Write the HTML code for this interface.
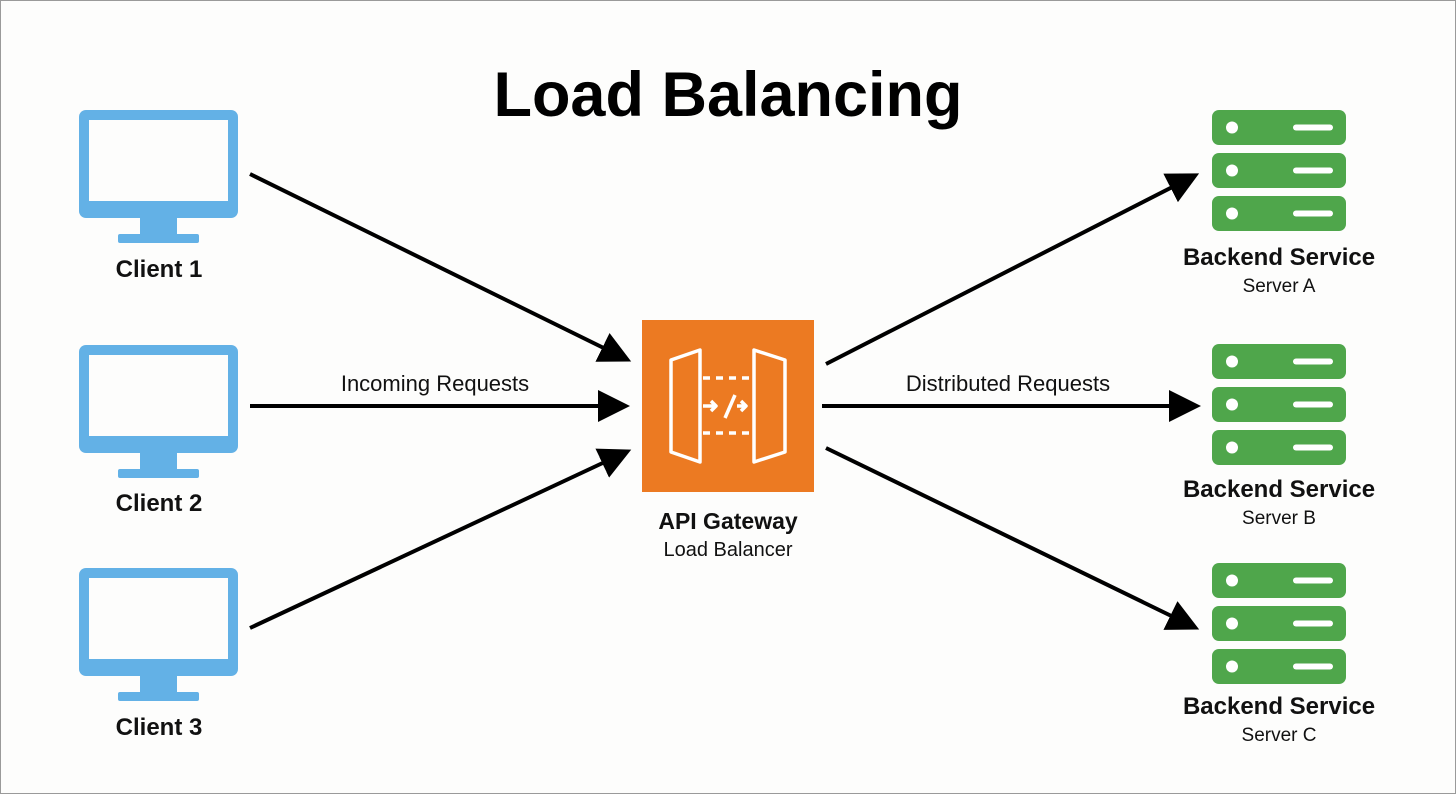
<!DOCTYPE html>
<html><head><meta charset="utf-8"><style>
html,body{margin:0;padding:0;background:#fdfdfc;}
svg{display:block}
text{font-family:"Liberation Sans",sans-serif;}
</style></head><body>
<svg width="1456" height="794" viewBox="0 0 1456 794" xmlns="http://www.w3.org/2000/svg">
<defs>
<marker id="ah" markerWidth="8" markerHeight="8" refX="6" refY="4" orient="auto" markerUnits="strokeWidth">
<path d="M0,0 L8,4 L0,8 Z" fill="#000"/>
</marker>
<g id="mon">
<rect x="79" y="110" width="159" height="108" rx="7" fill="#63b1e6"/>
<rect x="89" y="120" width="139" height="81" fill="#fdfdfc"/>
<rect x="140" y="216" width="37" height="20" fill="#63b1e6"/>
<rect x="118" y="234" width="81" height="9" rx="2" fill="#63b1e6"/>
</g>
<g id="srv">
<rect x="1212" y="0" width="134" height="35" rx="7" fill="#4fa64b"/>
<circle cx="1232" cy="17.5" r="6" fill="#fff"/>
<rect x="1293" y="14.5" width="40" height="6" rx="3" fill="#fff"/>
</g>
</defs>
<rect x="0.5" y="0.5" width="1455" height="793" fill="none" stroke="#9a9a9a"/>
<text x="728" y="116" text-anchor="middle" font-size="63" font-weight="bold" fill="#000">Load Balancing</text>

<use href="#mon"/>
<use href="#mon" y="235"/>
<use href="#mon" y="458"/>
<g font-size="24" font-weight="bold" fill="#111" text-anchor="middle">
<text x="159" y="277">Client 1</text>
<text x="159" y="511">Client 2</text>
<text x="159" y="735">Client 3</text>
</g>

<g stroke="#000" stroke-width="4" fill="none" marker-end="url(#ah)">
<line x1="250" y1="174" x2="624" y2="358"/>
<line x1="250" y1="406" x2="622" y2="406"/>
<line x1="250" y1="628" x2="624" y2="453"/>
<line x1="826" y1="364" x2="1192" y2="177"/>
<line x1="822" y1="406" x2="1193" y2="406"/>
<line x1="826" y1="448" x2="1192" y2="626"/>
</g>
<text x="435" y="391" text-anchor="middle" font-size="22" fill="#111">Incoming Requests</text>
<text x="1008" y="391" text-anchor="middle" font-size="22" fill="#111">Distributed Requests</text>

<rect x="642" y="320" width="172" height="172" fill="#ec7a22"/>
<g stroke="#fff" stroke-width="3.5" fill="none" stroke-linejoin="round">
<path d="M671,360 L700,350 L700,462 L671,452 Z"/>
<path d="M754,350 L785,360 L785,452 L754,462 Z"/>
<path d="M703,378 H752 M703,433 H752" stroke-dasharray="7,6"/>
<path d="M703,406 H716 M711,401 L716,406 L711,411"/>
<path d="M735,395 L725,418"/>
<path d="M737,406 H746 M741,401 L746,406 L741,411"/>
</g>
<text x="728" y="529" text-anchor="middle" font-size="23" font-weight="bold" fill="#111">API Gateway</text>
<text x="728" y="556" text-anchor="middle" font-size="20" fill="#111">Load Balancer</text>

<use href="#srv" y="110"/><use href="#srv" y="153"/><use href="#srv" y="196"/>
<use href="#srv" y="344"/><use href="#srv" y="387"/><use href="#srv" y="430"/>
<use href="#srv" y="563"/><use href="#srv" y="606"/><use href="#srv" y="649"/>
<g text-anchor="middle" fill="#111">
<text x="1279" y="265" font-size="24" font-weight="bold">Backend Service</text>
<text x="1279" y="292" font-size="19">Server A</text>
<text x="1279" y="497" font-size="24" font-weight="bold">Backend Service</text>
<text x="1279" y="524" font-size="19">Server B</text>
<text x="1279" y="714" font-size="24" font-weight="bold">Backend Service</text>
<text x="1279" y="741" font-size="19">Server C</text>
</g>
</svg>
</body></html>
